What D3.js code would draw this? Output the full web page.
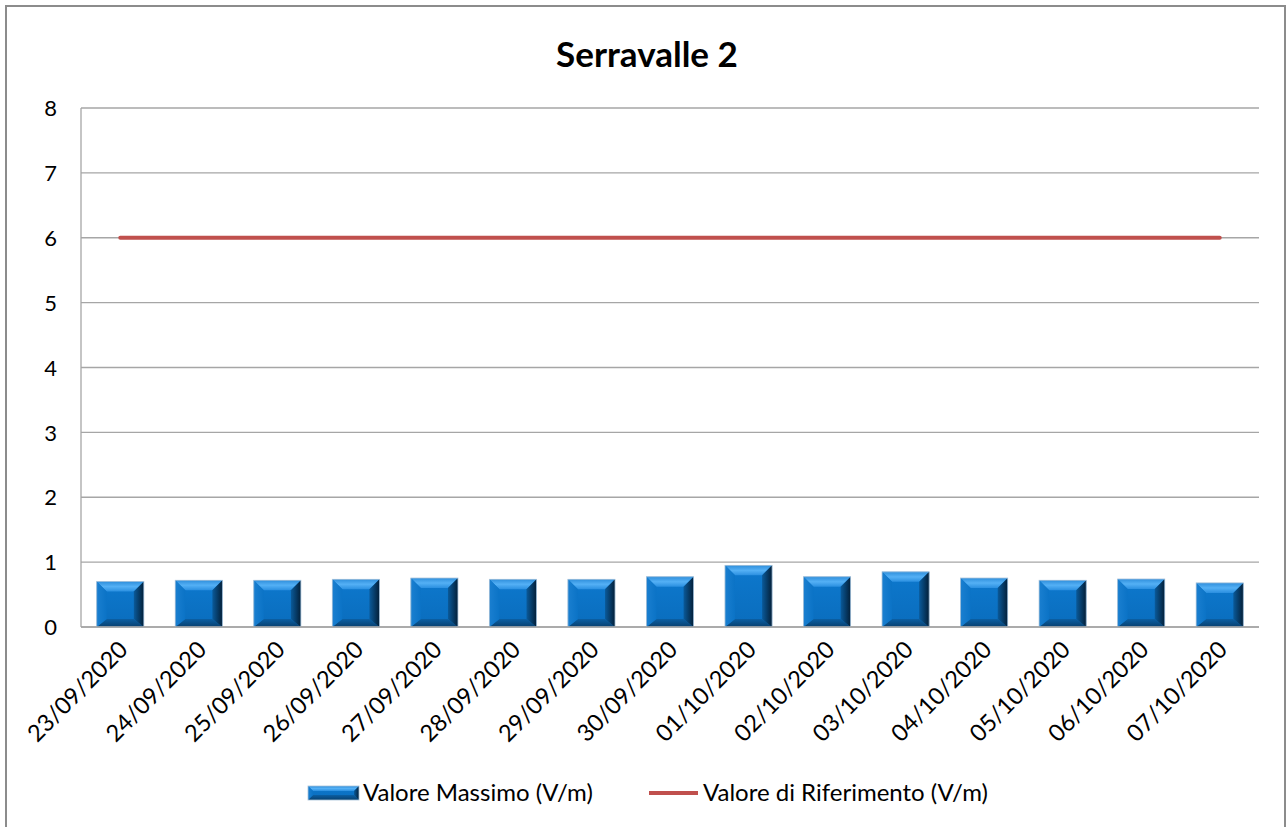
<!DOCTYPE html>
<html><head><meta charset="utf-8">
<script src="https://cdn.jsdelivr.net/npm/d3@7"></script>
<style>body{margin:0;background:#fff;} text{font-family:Lato,"Open Sans",sans-serif;}</style>
</head><body>
<svg id="c" width="1287" height="827"></svg>
<script>
const categories = ["23/09/2020","24/09/2020","25/09/2020","26/09/2020","27/09/2020","28/09/2020","29/09/2020","30/09/2020","01/10/2020","02/10/2020","03/10/2020","04/10/2020","05/10/2020","06/10/2020","07/10/2020"];
const valoreMassimo = [0.70,0.72,0.72,0.735,0.755,0.735,0.735,0.775,0.95,0.775,0.85,0.755,0.72,0.74,0.68];
const valoreRiferimento = [6,6,6,6,6,6,6,6,6,6,6,6,6,6,6];
const yTicks = [0,1,2,3,4,5,6,7,8];
const title = "Serravalle 2";
const seriesNames = ["Valore Massimo (V/m)","Valore di Riferimento (V/m)"];

const svg = d3.select("#c");
const m = {l:81, r:1259, t:108, b:627};

const defs = svg.append("defs");
function lg(id, x1,y1,x2,y2, stops){
  const g = defs.append("linearGradient").attr("id",id).attr("x1",x1).attr("y1",y1).attr("x2",x2).attr("y2",y2);
  stops.forEach(s=>g.append("stop").attr("offset",s[0]).attr("stop-color",s[1]));
}
lg("gTop",0,0,0,1,[[0,"#2f8fdc"],[0.5,"#54b0f5"],[1,"#2a8fe0"]]);
lg("gBot",0,0,0,1,[[0,"#0b5fa3"],[1,"#08406f"]]);
lg("gLeft",0,0,1,0,[[0,"#1a7fd0"],[1,"#0b73c6"]]);
lg("gRight",0,0,1,0,[[0,"#0a5a9a"],[1,"#031f38"]]);
lg("gMid",0,0,0,1,[[0,"#0d78cd"],[1,"#0a6dbd"]]);

svg.append("rect").attr("x",6).attr("y",6).attr("width",1279).attr("height",830)
  .attr("fill","#fff").attr("stroke","#8c8c8c").attr("stroke-width",2);

svg.append("text").attr("x",647).attr("y",67).attr("text-anchor","middle")
  .attr("font-size",35).attr("font-weight","bold").attr("fill","#000").text(title);

const x = d3.scaleBand().domain(categories).range([m.l,m.r]).paddingInner(0.40).paddingOuter(0.20);
const y = d3.scaleLinear().domain([0,8]).range([m.b,m.t]);

svg.append("g").selectAll("line").data(yTicks).join("line")
  .attr("x1",m.l).attr("x2",m.r).attr("y1",d=>y(d)).attr("y2",d=>y(d))
  .attr("stroke","#a6a6a6").attr("stroke-width",1.3);
svg.append("line").attr("x1",m.l).attr("x2",m.l).attr("y1",m.t).attr("y2",m.b)
  .attr("stroke","#a6a6a6").attr("stroke-width",1.3);

const yAxis = d3.axisLeft(y).tickValues(yTicks).tickSize(0).tickPadding(0);
const ga = svg.append("g").attr("transform",`translate(57,0)`).call(yAxis);
ga.select(".domain").remove();
ga.selectAll("text").attr("font-size",22).attr("fill","#000").attr("font-family","Lato,'Open Sans',sans-serif").attr("dy","0.35em");

function bevelBar(sel, x0, x1, y0, y1, bev, bevB){
  const b = Math.min(bev,(y1-y0)/2), bb = Math.min(bevB,(y1-y0)/2);
  sel.append("rect").attr("x",x0).attr("y",y0).attr("width",x1-x0).attr("height",y1-y0).attr("fill","url(#gMid)");
  sel.append("polygon").attr("points",[[x0,y0],[x1,y0],[x1-bev,y0+b],[x0+bev,y0+b]].join(" ")).attr("fill","url(#gTop)");
  sel.append("polygon").attr("points",[[x0,y1],[x1,y1],[x1-bev,y1-bb],[x0+bev,y1-bb]].join(" ")).attr("fill","url(#gBot)");
  sel.append("polygon").attr("points",[[x0,y0],[x0+bev,y0+b],[x0+bev,y1-bb],[x0,y1]].join(" ")).attr("fill","url(#gLeft)");
  sel.append("polygon").attr("points",[[x1,y0],[x1-bev,y0+b],[x1-bev,y1-bb],[x1,y1]].join(" ")).attr("fill","url(#gRight)");
  sel.append("rect").attr("x",x0).attr("y",y0).attr("width",x1-x0).attr("height",y1-y0).attr("fill","none").attr("stroke","#a9c3da").attr("stroke-width",0.8);
}

const bw = x.bandwidth();
const g = svg.append("g");
categories.forEach((c,i)=>{
  bevelBar(g.append("g"), x(c), x(c)+bw, y(valoreMassimo[i]), y(0), 10, 8);
});

svg.append("line").attr("x1",m.l).attr("x2",m.r).attr("y1",m.b).attr("y2",m.b).attr("stroke","#a6a6a6").attr("stroke-width",1.3);

const line = d3.line().x((d,i)=>x(categories[i])+bw/2).y(d=>y(d));
svg.append("path").datum(valoreRiferimento).attr("d",line).attr("fill","none")
  .attr("stroke","#c0504d").attr("stroke-width",4).attr("stroke-linecap","round");

svg.append("g").selectAll("text").data(categories).join("text")
  .attr("transform",d=>`translate(${x(d)+bw/2+9},${651}) rotate(-45)`)
  .attr("text-anchor","end").attr("font-size",23.5).attr("fill","#000").text(d=>d);

const lgd = svg.append("g");
bevelBar(lgd.append("g"), 308, 359, 786, 800, 5, 5);
lgd.append("text").attr("x",363).attr("y",801).attr("font-size",24).attr("fill","#000").text(seriesNames[0]);
lgd.append("line").attr("x1",649).attr("x2",698).attr("y1",793).attr("y2",793).attr("stroke","#c0504d").attr("stroke-width",4);
lgd.append("text").attr("x",703).attr("y",801).attr("font-size",24).attr("fill","#000").text(seriesNames[1]);
</script>
</body></html>
